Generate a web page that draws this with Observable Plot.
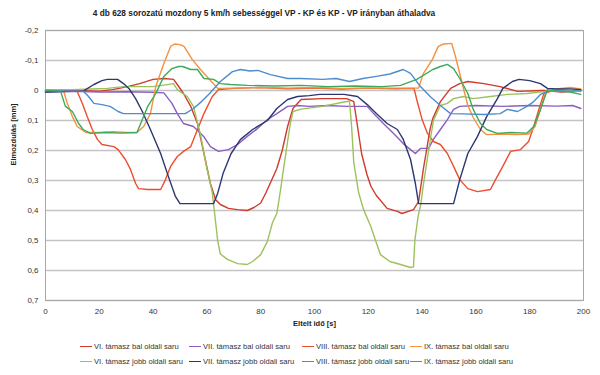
<!DOCTYPE html>
<html>
<head>
<meta charset="utf-8">
<script src="https://cdn.jsdelivr.net/npm/d3@7"></script>
<script src="https://cdn.jsdelivr.net/npm/@observablehq/plot@0.6"></script>
<style>
  body { margin: 0; background: #fff; }
  #wrap { position: relative; width: 600px; height: 375px; font-family: "Liberation Sans", Arial, sans-serif; color: #333; overflow: hidden; }
  #title { position: absolute; top: 8px; left: 0; width: 528px; text-align: center; font-size: 8.3px; font-weight: bold; color: #222; white-space: nowrap; }
  #chart { position: absolute; top: 24px; left: 0; }
  .leg { position: absolute; font-size: 7.6px; color: #333; white-space: nowrap; display: flex; align-items: center; }
  .leg span.sw { display: inline-block; width: 12px; height: 0; border-top: 1.6px solid; margin-right: 2px; }
</style>
</head>
<body>
<div id="wrap">
  <div id="title">4 db 628 sorozatú mozdony 5 km/h sebességgel VP - KP és KP - VP irányban áthaladva</div>
  <div id="chart"></div>
  <div id="legend"></div>
</div>
<script>
// ---- categories ----
const seriesNames = [
  "VI. támasz bal oldali saru", "VII. támasz bal oldali saru",
  "VIII. támasz bal oldali saru", "IX. támasz bal oldali saru",
  "VI. támasz jobb oldali saru", "VII. támasz jobb oldali saru",
  "VIII. támasz jobb oldali saru", "IX. támasz jobb oldali saru"
];
const seriesColors = ["#cf3a2c", "#8a5fc2", "#ee4d2e", "#f5913f", "#9dc15c", "#2c3670", "#4c8dd0", "#3caa5a"];

// ---- axis ticks ----
const xTicks = [0, 20, 40, 60, 80, 100, 120, 140, 160, 180, 200];
const yTicks = [-0.2, -0.1, 0, 0.1, 0.2, 0.3, 0.4, 0.5, 0.6, 0.7];

// ---- series values (time [s], displacement [mm]) ----
const t_VI_bal = [0, 10, 20, 25, 30.5, 35, 40, 44, 47.6, 49, 51.3, 54, 56.5, 58.9, 61.3, 63.2, 65, 68, 71.4, 75, 77.5, 80, 82, 84, 86, 88, 90, 92, 95, 103, 112, 114.6, 116, 117.5, 119.5, 121, 123, 127, 130.8, 132.5, 136.8, 138.7, 140.5, 143, 144, 146.8, 150.6, 154, 157, 163, 169, 175.5, 185, 192, 199];
const v_VI_bal = [0.003, 0, 0.002, -0.003, -0.013, -0.023, -0.037, -0.04, -0.037, -0.02, 0.01, 0.053, 0.11, 0.21, 0.31, 0.363, 0.38, 0.393, 0.397, 0.4, 0.39, 0.375, 0.34, 0.3, 0.26, 0.2, 0.12, 0.06, 0.03, 0.027, 0.027, 0.037, 0.12, 0.21, 0.28, 0.32, 0.35, 0.393, 0.403, 0.41, 0.397, 0.37, 0.26, 0.127, 0.093, 0.037, -0.007, -0.023, -0.03, -0.023, -0.013, 0.003, 0, 0.005, 0];

const t_VII_bal = [0, 10, 20, 30, 40, 44, 47, 49, 51.3, 55, 58.8, 61.3, 64.3, 68, 71.4, 75, 78.8, 82.5, 86, 90, 93.7, 98, 105, 112, 119.6, 122, 125.6, 129.4, 133, 135.7, 137.5, 139.4, 142.4, 144.2, 146.8, 149.4, 151.7, 154, 160, 170, 180, 190, 196, 199];
const v_VII_bal = [0.005, 0.003, 0.005, 0.004, 0.006, 0.008, 0.043, 0.077, 0.11, 0.12, 0.153, 0.187, 0.203, 0.197, 0.18, 0.153, 0.127, 0.097, 0.077, 0.053, 0.05, 0.053, 0.05, 0.053, 0.053, 0.077, 0.11, 0.143, 0.177, 0.197, 0.21, 0.193, 0.193, 0.163, 0.13, 0.097, 0.063, 0.053, 0.05, 0.053, 0.05, 0.052, 0.05, 0.06];

const t_VIII_bal = [0, 8, 11.8, 13.7, 15.5, 17.4, 19.3, 21, 25.4, 27, 29.7, 31.6, 33.5, 34.6, 38, 42.8, 44.6, 46.5, 49, 51.3, 54, 56.5, 58.9, 62, 64.3, 70, 80, 90, 100, 110, 120, 130, 137, 138, 140, 142, 144.2, 146.8, 149.4, 151.7, 154, 157, 160.6, 165.4, 167.3, 170, 172.9, 176.6, 179.6, 181.5, 183.4, 185.3, 190, 199];
const v_VIII_bal = [0, 0.002, 0.003, 0.043, 0.087, 0.13, 0.163, 0.18, 0.187, 0.197, 0.23, 0.263, 0.31, 0.327, 0.33, 0.33, 0.297, 0.253, 0.22, 0.203, 0.187, 0.13, 0.077, 0.02, -0.003, -0.007, -0.01, -0.006, -0.008, -0.005, -0.008, -0.006, -0.007, 0.03, 0.097, 0.143, 0.17, 0.18, 0.21, 0.253, 0.297, 0.327, 0.337, 0.33, 0.297, 0.253, 0.203, 0.197, 0.17, 0.12, 0.063, 0.01, -0.004, 0];

const t_IX_bal = [0, 6.7, 8, 10, 11.8, 15, 20, 25, 30, 34, 36.5, 39, 41, 44, 46.5, 48, 50, 51.5, 54.6, 57.6, 61, 64, 70, 80, 90, 100, 110, 120, 130, 138.7, 140.5, 143.8, 146, 148, 151, 152.5, 155, 157, 159, 161.7, 164, 170, 175, 179.6, 182, 184, 186, 190, 195, 199];
const v_IX_bal = [0.003, 0, 0.04, 0.087, 0.12, 0.14, 0.14, 0.137, 0.14, 0.14, 0.12, 0.077, -0.013, -0.09, -0.147, -0.155, -0.153, -0.147, -0.103, -0.07, -0.037, -0.007, -0.008, -0.01, -0.008, -0.01, -0.007, -0.008, -0.008, -0.008, -0.057, -0.103, -0.147, -0.155, -0.157, -0.11, -0.02, 0.05, 0.09, 0.13, 0.147, 0.145, 0.147, 0.145, 0.12, 0.063, 0.003, -0.005, -0.01, -0.005];

const t_VI_jobb = [0, 10, 17, 23, 29, 35, 40, 44, 47.6, 49, 52.7, 55, 57.6, 60, 62, 63, 64, 65, 67.6, 71.4, 75, 77, 80, 82.5, 84.4, 86, 87.4, 88.5, 90, 91, 92, 95, 103, 110, 113, 113.8, 114.6, 116.4, 118, 119, 120.8, 122.7, 124.5, 128, 132, 135.7, 136.8, 137.3, 138.5, 139.5, 140.5, 142.4, 144.2, 146.8, 149.4, 151.7, 155.4, 159, 165.4, 171.7, 179, 186, 192, 199];
const v_VI_jobb = [-0.003, -0.003, -0.005, -0.007, -0.013, -0.013, -0.013, -0.018, -0.023, -0.003, 0.02, 0.053, 0.147, 0.26, 0.34, 0.42, 0.5, 0.545, 0.563, 0.577, 0.58, 0.57, 0.547, 0.503, 0.44, 0.41, 0.33, 0.26, 0.17, 0.11, 0.07, 0.062, 0.053, 0.04, 0.035, 0.12, 0.24, 0.34, 0.39, 0.413, 0.45, 0.5, 0.547, 0.57, 0.58, 0.59, 0.588, 0.5, 0.42, 0.38, 0.313, 0.2, 0.1, 0.05, 0.043, 0.027, 0.02, 0.027, 0.02, 0.013, 0.01, 0.003, 0.002, 0];

const t_VII_jobb = [0, 10, 14, 18, 21, 23, 26.8, 29, 31, 33.5, 36, 39, 42.8, 45.7, 48.3, 50, 55, 62.5, 64, 66, 69, 72.5, 77, 82.5, 86, 90, 93.7, 98, 102, 111, 116, 119.6, 123, 127, 130.8, 133, 135.7, 137.5, 138.7, 145, 151.7, 154, 157, 160.6, 164, 168, 170, 173.6, 176, 180, 184, 186.6, 190, 195, 199];
const v_VII_jobb = [0.005, 0.003, 0.002, -0.02, -0.033, -0.037, -0.037, -0.023, -0.007, 0.027, 0.07, 0.13, 0.21, 0.287, 0.353, 0.377, 0.377, 0.377, 0.343, 0.277, 0.21, 0.163, 0.13, 0.1, 0.06, 0.03, 0.02, 0.017, 0.013, 0.013, 0.02, 0.047, 0.077, 0.11, 0.13, 0.163, 0.23, 0.31, 0.377, 0.377, 0.377, 0.297, 0.21, 0.153, 0.087, 0.027, -0.007, -0.03, -0.037, -0.033, -0.023, -0.007, -0.005, -0.005, -0.003];

const t_VIII_jobb = [0, 10, 14, 16, 18, 21, 24, 27, 29, 35, 40, 47.6, 52, 55, 58, 61, 65, 69.5, 72.5, 76, 79, 83.6, 90, 95, 103, 108, 113, 118, 123, 128, 133, 135.7, 139.4, 143, 146.8, 150.6, 155, 163, 169, 171.7, 175.5, 179, 181.5, 184, 186.6, 190, 195, 199];
const v_VIII_jobb = [0, 0.002, 0.002, 0.02, 0.043, 0.047, 0.053, 0.07, 0.077, 0.077, 0.077, 0.077, 0.077, 0.06, 0.037, 0.01, -0.03, -0.063, -0.07, -0.065, -0.067, -0.053, -0.04, -0.04, -0.037, -0.04, -0.03, -0.04, -0.047, -0.055, -0.07, -0.057, -0.013, 0.02, 0.05, 0.077, 0.078, 0.08, 0.077, 0.063, 0.07, 0.053, 0.037, 0.013, 0.003, 0, -0.003, 0.002];

const t_IX_jobb = [0, 5.6, 7.4, 10, 12.3, 14, 16.7, 22, 28, 34, 36, 38, 41, 44, 47, 49.5, 51, 54, 56.5, 58.9, 62.5, 65, 68.8, 75, 85, 95, 105, 115, 125, 132, 138, 144, 146.8, 149.4, 151.7, 154, 157, 159, 161.7, 164, 168, 173, 179, 181.5, 184, 186.6, 190, 195, 199];
const v_IX_jobb = [0, 0.002, 0.053, 0.07, 0.11, 0.13, 0.143, 0.14, 0.142, 0.14, 0.097, 0.053, 0.01, -0.047, -0.073, -0.08, -0.08, -0.07, -0.07, -0.04, -0.037, -0.023, -0.02, -0.017, -0.015, -0.017, -0.013, -0.015, -0.013, -0.017, -0.037, -0.07, -0.08, -0.087, -0.073, -0.04, 0.01, 0.063, 0.11, 0.13, 0.143, 0.14, 0.142, 0.12, 0.063, -0.003, 0.002, 0.005, 0.013];

// ---- build table ----
const seriesT = [t_VI_bal, t_VII_bal, t_VIII_bal, t_IX_bal, t_VI_jobb, t_VII_jobb, t_VIII_jobb, t_IX_jobb];
const seriesV = [v_VI_bal, v_VII_bal, v_VIII_bal, v_IX_bal, v_VI_jobb, v_VII_jobb, v_VIII_jobb, v_IX_jobb];
const rows = [];
seriesNames.forEach((name, i) => {
  seriesT[i].forEach((t, j) => rows.push({s: name, t, v: seriesV[i][j]}));
});

const huLocale = d3.formatLocale({decimal: ",", thousands: " ", grouping: [3], currency: ["", ""], minus: "-"});
const f1 = huLocale.format(".1f");
const yFmt = d => (Math.abs(d) < 1e-9 ? "0" : f1(d));

const chart = Plot.plot({
  width: 600,
  height: 316,
  marginTop: 6,
  marginBottom: 40,
  marginLeft: 45,
  marginRight: 17,
  style: {fontFamily: "'Liberation Sans', Arial, sans-serif", fontSize: "8px", color: "#333", background: "white"},
  x: {domain: [0, 200]},
  y: {domain: [-0.2, 0.7], reverse: true},
  color: {domain: seriesNames, range: seriesColors},
  marks: [
    Plot.gridY(yTicks, {stroke: "#c4c4c4", strokeOpacity: 1, strokeWidth: 1.3}),
    Plot.frame({stroke: "#a8a8a8", strokeWidth: 1}),
    Plot.line(rows, {x: "t", y: "v", z: "s", stroke: "s", strokeWidth: 1.4, curve: "linear"}),
    Plot.axisY(yTicks, {tickFormat: yFmt, tickSize: 0, tickPadding: 7, label: null, fontSize: 8}),
    Plot.axisX(xTicks, {tickFormat: d => String(d), tickSize: 0, tickPadding: 8, label: null, fontSize: 8}),
    Plot.text(["Elmozdulás [mm]"], {text: d => d, frameAnchor: "left", rotate: -90, dx: -32, fontWeight: "bold", fontSize: 7.5, fill: "#222"}),
    Plot.text(["Eltelt idő [s]"], {text: d => d, frameAnchor: "bottom", dy: 25, fontWeight: "bold", fontSize: 7.5, fill: "#222"})
  ]
});
document.getElementById("chart").appendChild(chart);

// ---- legend ----
const legCols = [80, 189, 302, 410];
const legRows = [342, 357];
const legend = document.getElementById("legend");
seriesNames.forEach((name, i) => {
  const el = document.createElement("div");
  el.className = "leg";
  el.style.left = legCols[i % 4] + "px";
  el.style.top = legRows[Math.floor(i / 4)] + "px";
  const sw = document.createElement("span");
  sw.className = "sw";
  sw.style.borderTopColor = seriesColors[i];
  el.appendChild(sw);
  el.appendChild(document.createTextNode(name));
  legend.appendChild(el);
});
</script>
</body>
</html>
